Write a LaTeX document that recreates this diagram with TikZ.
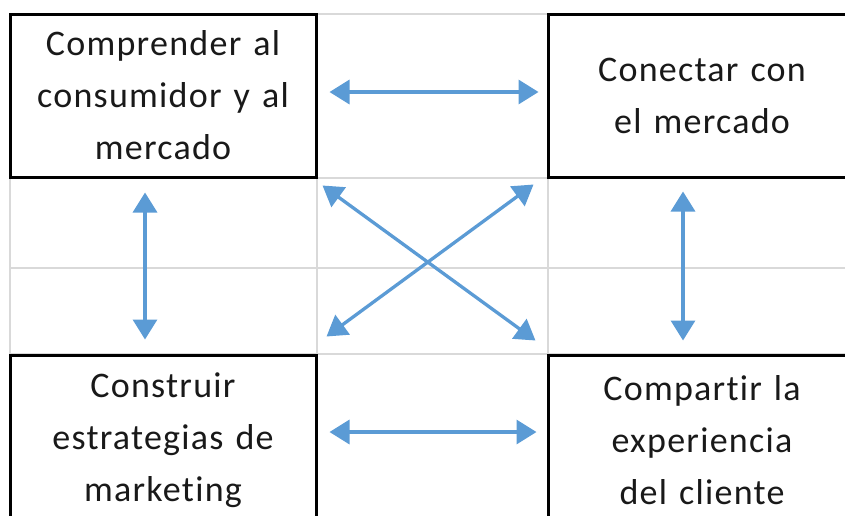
\documentclass[tikz,border=0pt]{standalone}
\usepackage{fontspec}
\setmainfont{Carlito}[Ligatures=NoCommon, LetterSpace=3.5, WordSpace=0.75]
\usetikzlibrary{arrows.meta}
\definecolor{gridgray}{HTML}{D9D9D9}
\definecolor{arrowblue}{HTML}{5B9BD5}
\tikzset{
  cell/.style={draw=black, line width=3pt, rectangle, inner sep=0pt,
    align=center, text width=300pt, text=black!90,
    font=\fontsize{36}{52}\selectfont},
  gridline/.style={draw=gridgray, line width=1.3pt},
  link/.style={draw=arrowblue, line width=3.3pt,
    {Triangle[width=24pt,length=20pt]}-{Triangle[width=24pt,length=20pt]}}
}
\begin{document}
\begin{tikzpicture}[x=1pt, y=-1pt]
  \useasboundingbox (0,0) rectangle (845,515);
  \clip (0,0) rectangle (845,515);

  % spreadsheet grid
  \draw[gridline] (316,14) -- (548,14);
  \draw[gridline] (10,178) -- (845,178);
  \draw[gridline] (10,268) -- (845,268);
  \draw[gridline] (10,354) -- (845,354);
  \draw[gridline] (10,177) -- (10,355);
  \draw[gridline] (317,14) -- (317,515);
  \draw[gridline] (548,14) -- (548,515);

  % the four stages
  \node[cell, minimum width=306pt, minimum height=163pt] (TL) at (163,95.5)
    {Comprender al\\consumidor y al\\mercado};
  \node[cell, minimum width=308pt, minimum height=163pt] (TR) at (702,95.5)
    {Conectar con\\el mercado};
  \node[cell, minimum width=306pt, minimum height=170pt] (BL) at (163,440)
    {Construir\\estrategias de\\marketing};
  \node[cell, minimum width=308pt, minimum height=170pt] (BR) at (702,440)
    {Compartir la\\experiencia\\del cliente};

  % two-way links
  \draw[link] ([xshift=12pt,yshift=3.5pt]TL.east) -- ([xshift=-8pt,yshift=3.5pt]TR.west);
  \draw[link] ([xshift=12pt,yshift=8pt]BL.east) -- ([xshift=-10pt,yshift=8pt]BR.west);
  \draw[link] ([xshift=-18pt,yshift=-14pt]TL.south) -- ([xshift=-18pt,yshift=14pt]BL.north);
  \draw[link] ([xshift=-19pt,yshift=-13pt]TR.south) -- ([xshift=-19pt,yshift=13pt]BR.north);
  \draw[link] ([xshift=5pt,yshift=-7pt]TL.south east) -- ([xshift=-11pt,yshift=13pt]BR.north west);
  \draw[link] ([xshift=-13pt,yshift=-6pt]TR.south west) -- ([xshift=9pt,yshift=17pt]BL.north east);
\end{tikzpicture}
\end{document}
